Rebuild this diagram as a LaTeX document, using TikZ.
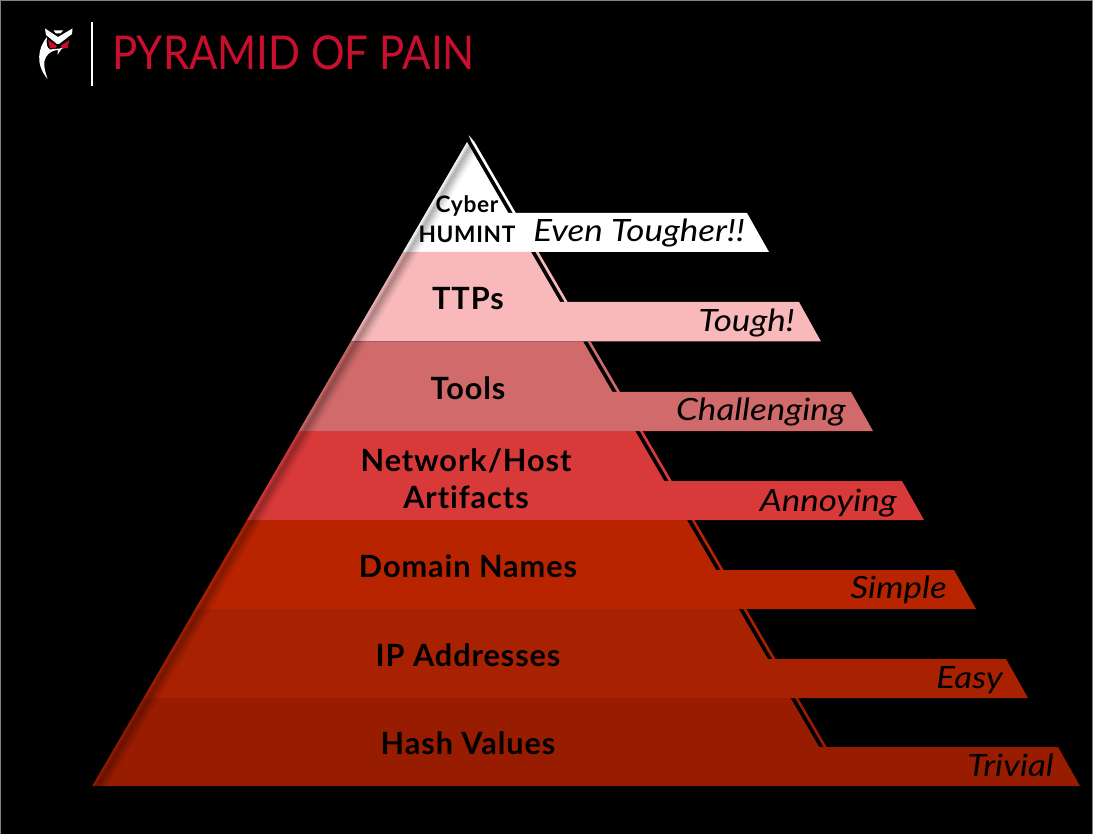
\documentclass[tikz,border=0pt]{standalone}
\usepackage{fontspec}
\setmainfont{Lato}
\newfontfamily\titlefont[FakeStretch=0.9]{Lato}
\newfontfamily\tierfont[LetterSpace=3,Ligatures=NoCommon]{Lato Bold}
\newfontfamily\tagfont[FakeStretch=1.14]{Lato Italic}
\definecolor{crimson}{HTML}{C8102E}
\definecolor{tierwhite}{HTML}{FFFFFF}
\definecolor{tierpink}{HTML}{F9B9BB}
\definecolor{tierrose}{HTML}{D16A6A}
\definecolor{tierred}{HTML}{D83A3A}
\definecolor{tierrust}{HTML}{B92400}
\definecolor{tierbrick}{HTML}{A82100}
\definecolor{tierdark}{HTML}{981C00}
\begin{document}
\begin{tikzpicture}[
  x=0.75pt, y=-0.75pt,
  declare function={edgeL(\y)=467-.582*(\y-142); edgeR(\y)=467+.582*(\y-142);},
  tiername/.style={inner sep=0pt, align=center, text=black, font=\tierfont\fontsize{23}{27}\selectfont},
  smallname/.style={tiername, font=\tierfont\fontsize{17}{20}\selectfont},
  tag/.style={anchor=base east, inner sep=0pt, text=black, font=\tagfont\fontsize{23}{27}\selectfont}
]
\useasboundingbox (0,0) rectangle (1093,834);
\fill[black] (0,0) rectangle (1093,834);
\draw[gray, line width=0.5pt] (0.5,0.5) -- (1092,0.5) -- (1092,834);
\draw[gray, line width=0.5pt] (0.5,0.5) -- (0.5,834);

\foreach \tiertop/\tagtop/\tierbot/\tagend/\tiercol in {
  142/213/252/769/tierwhite,
  252/302/341.5/821/tierpink,
  341.5/392/431/873/tierrose,
  431/481/520/924/tierred,
  520/570/609/976/tierrust,
  609/659/698/1028/tierbrick,
  698/747/786/1080/tierdark}{
  \fill[\tiercol] ({edgeL(\tiertop)},\tiertop) -- ({edgeR(\tiertop)},\tiertop) -- ({edgeR(\tagtop)},\tagtop)
    -- ({\tagend-22},\tagtop) -- (\tagend,\tierbot) -- ({edgeL(\tierbot)},\tierbot) -- cycle;
  \fill[\tiercol] ({edgeR(\tiertop)+4.5},\tiertop) -- ({edgeR(\tiertop)+7.5},\tiertop)
    -- ({edgeR(\tagtop)+7.5},\tagtop) -- ({edgeR(\tagtop)+4.5},\tagtop) -- cycle;
}
\fill[tierwhite] (468.5,135) -- ({edgeR(142)+7.5},142) -- ({edgeR(142)+4.5},142) -- cycle;

\begin{scope}
\clip (467,142) -- (92,786) -- (842,786) -- cycle;
\foreach \off/\op in {1/.03,2/.07,3/.13,4/.18,5/.22,6/.22,7/.2,8/.18,9/.15,10/.13,11/.1,12/.08,13/.06,14/.04,15/.03,16/.01}{
  \draw[black, opacity=\op, line width=0.8pt] ({467+\off},142) -- ({92+\off},786);
}
\end{scope}

\node[smallname] (cyber) at (467,206) {Cyber};
\node[smallname] (humint) at (467,234) {HUMINT};
\node[tiername] (ttps) at (468,299) {TTPs};
\node[tiername] (tools) at (468,388) {Tools};
\node[tiername] (network) at (466,461) {Network/Host};
\node[tiername] (artifacts) at (466,497) {Artifacts};
\node[tiername] (domain) at (468,566) {Domain Names};
\node[tiername] (address) at (468,655) {IP Addresses};
\node[tiername] (hash) at (468,743) {Hash Values};

\node[tag] (tougher) at (745,242) {Even Tougher!!};
\node[tag] (tough) at (795,332) {Tough!};
\node[tag] (challenging) at (846,421) {Challenging};
\node[tag] (annoying) at (897,511) {Annoying};
\node[tag] (simple) at (947,598) {Simple};
\node[tag] (easy) at (1003,688) {Easy};
\node[tag] (trivial) at (1054,776) {Trivial};

\node[anchor=base west, inner sep=0pt, text=crimson, font=\titlefont\fontsize{35}{38}\selectfont] (title) at (112,70) {PYRAMID OF PAIN};
\draw[white, line width=1.5pt] (92,22) -- (92,86);

\fill[white] (45,28.5) -- (58,37) -- (72.5,28.5) -- (72,34) -- (59,44) -- (57,44) -- (46,35) -- cycle;
\fill[white] (53.5,30.5) -- (63,30.5) -- (60.5,33.5) -- (56,33.5) -- cycle;
\fill[white] (47,37) .. controls (38,48) and (35,64) .. (47.5,79) .. controls (44,68) and (43,62) .. (46,57)
  .. controls (49,52) and (54,50) .. (58,50) -- (57.5,55) -- (61,49.5) -- (67,45.5) -- (60,48.5) -- (50,49.5) .. controls (47,48) and (46,44) .. (47,37) -- cycle;
\fill[crimson] (48,40) -- (57,46) -- (55,48.5) -- (50,48) -- cycle;
\fill[crimson] (69.5,40) -- (60.5,46) -- (62.5,48.5) -- (67.5,48) -- cycle;
\end{tikzpicture}
\end{document}
